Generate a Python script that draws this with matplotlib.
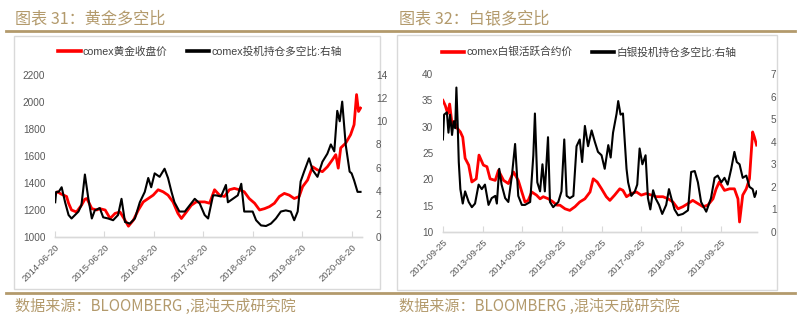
import matplotlib
matplotlib.use("Agg")
import matplotlib.pyplot as plt
from matplotlib.lines import Line2D
from matplotlib.patches import Rectangle
import datetime as dt

plt.rcParams['font.family'] = ['Liberation Sans', 'Noto Sans CJK SC', 'DejaVu Sans']

# ---------------- data: gold ----------------
gold_t = [2014.47, 2014.52, 2014.58, 2014.64, 2014.70, 2014.74, 2014.80, 2014.90, 2015.00,
          2015.07, 2015.11, 2015.21, 2015.31, 2015.37, 2015.48, 2015.58, 2015.68, 2015.78,
          2015.88, 2015.95, 2016.05, 2016.15, 2016.25, 2016.35, 2016.45, 2016.55, 2016.65,
          2016.75, 2016.85, 2016.95, 2017.02, 2017.12, 2017.22, 2017.32, 2017.39, 2017.49,
          2017.59, 2017.69, 2017.79, 2017.89, 2017.99, 2018.09, 2018.19, 2018.29, 2018.39,
          2018.50, 2018.60, 2018.70, 2018.80, 2018.90, 2019.00, 2019.10, 2019.20, 2019.30,
          2019.40, 2019.47, 2019.57, 2019.67, 2019.77, 2019.87, 2019.97, 2020.07, 2020.14,
          2020.19, 2020.24, 2020.34, 2020.44, 2020.51, 2020.56, 2020.60, 2020.64]
gold_price = [1320, 1335, 1320, 1310, 1300, 1250, 1200, 1185, 1235,
              1280, 1285, 1210, 1200, 1210, 1200, 1137, 1175, 1185,
              1125, 1080, 1125, 1200, 1260, 1285, 1310, 1350, 1335,
              1310, 1260, 1175, 1137, 1185, 1235, 1260, 1260, 1260,
              1250, 1350, 1310, 1300, 1350, 1360, 1350, 1335, 1285,
              1250, 1200, 1210, 1225, 1250, 1300, 1323, 1310, 1285,
              1300, 1373, 1422, 1520, 1497, 1484, 1520, 1571, 1610,
              1510, 1660, 1695, 1758, 1832, 2055, 1930, 1955]

gold_ratio_t = [2014.47, 2014.49, 2014.54, 2014.60, 2014.67, 2014.74, 2014.80, 2014.87, 2014.94,
                2015.00, 2015.07, 2015.14, 2015.21, 2015.27, 2015.37, 2015.44, 2015.54, 2015.64,
                2015.74, 2015.81, 2015.88, 2015.98, 2016.08, 2016.18, 2016.28, 2016.35, 2016.41,
                2016.48, 2016.58, 2016.68, 2016.75, 2016.82, 2016.88, 2016.98, 2017.09, 2017.19,
                2017.29, 2017.39, 2017.49, 2017.56, 2017.66, 2017.72, 2017.82, 2017.92, 2017.96,
                2018.06, 2018.16, 2018.23, 2018.29, 2018.39, 2018.46, 2018.53, 2018.63, 2018.73,
                2018.83, 2018.93, 2019.03, 2019.13, 2019.23, 2019.30, 2019.37, 2019.43, 2019.50,
                2019.60, 2019.67, 2019.77, 2019.87, 2019.97, 2020.04, 2020.11, 2020.17, 2020.22,
                2020.27, 2020.34, 2020.42, 2020.46, 2020.51, 2020.58, 2020.64]
gold_ratio = [3.0, 3.9, 3.9, 4.3, 3.0, 1.9, 1.6, 1.9, 2.2,
              2.75, 5.4, 3.3, 1.6, 2.3, 2.5, 1.7, 1.6, 1.45,
              1.9, 3.3, 1.3, 1.16, 1.6, 3.0, 3.9, 5.1, 4.3,
              5.5, 5.2, 5.9, 5.1, 3.9, 3.0, 2.2, 2.2, 2.75,
              3.3, 2.9, 1.9, 1.6, 3.6, 3.6, 3.5, 4.5, 3.0,
              3.3, 3.6, 4.6, 2.2, 2.2, 2.2, 1.45, 1.0, 0.95,
              1.16, 1.6, 2.2, 2.3, 2.2, 1.45, 2.2, 4.8, 5.65,
              6.8, 5.8, 5.2, 6.5, 7.2, 8.0, 7.4, 10.9, 10.0,
              11.7, 8.0, 5.65, 5.5, 4.9, 3.9, 3.9]

gold_ticks = ['2014-06-20', '2015-06-20', '2016-06-20', '2017-06-20',
              '2018-06-20', '2019-06-20', '2020-06-20']

# ---------------- data: silver ----------------
silver_t = [2012.73, 2012.79, 2012.85, 2012.90, 2012.96, 2013.02, 2013.08, 2013.17, 2013.23,
            2013.29, 2013.38, 2013.46, 2013.57, 2013.64, 2013.75, 2013.84, 2013.92, 2014.05,
            2014.13, 2014.26, 2014.38, 2014.51, 2014.63, 2014.72, 2014.80, 2014.88, 2014.97,
            2015.09, 2015.18, 2015.26, 2015.39, 2015.51, 2015.60, 2015.68, 2015.81, 2015.93,
            2016.06, 2016.18, 2016.31, 2016.44, 2016.52, 2016.62, 2016.73, 2016.85, 2016.94,
            2017.06, 2017.19, 2017.27, 2017.36, 2017.48, 2017.61, 2017.73, 2017.86, 2017.99,
            2018.11, 2018.28, 2018.41, 2018.53, 2018.66, 2018.78, 2018.91, 2019.03, 2019.16,
            2019.29, 2019.41, 2019.54, 2019.62, 2019.70, 2019.83, 2019.96, 2020.08, 2020.17,
            2020.21, 2020.29, 2020.38, 2020.46, 2020.54, 2020.58, 2020.64]
silver_price = [35.0, 34.0, 32.5, 34.3, 30.5, 31.0, 29.8, 29.0, 28.0,
                24.0, 22.7, 19.5, 20.1, 24.6, 22.7, 22.4, 20.1, 19.8,
                21.7, 19.8, 19.2, 21.4, 19.8, 17.6, 15.7, 16.0, 17.6,
                17.0, 16.3, 16.7, 16.3, 15.7, 15.1, 15.1, 14.4, 14.1,
                14.8, 15.7, 16.3, 17.6, 20.1, 19.5, 18.2, 16.7, 16.0,
                17.0, 18.2, 17.9, 16.7, 17.3, 17.6, 17.0, 17.3, 17.0,
                16.7, 16.7, 16.3, 15.7, 14.4, 14.8, 15.4, 16.0, 15.4,
                14.8, 15.1, 16.3, 18.2, 19.5, 17.9, 18.2, 18.2, 16.3,
                11.9, 17.0, 18.2, 20.1, 29.0, 28.1, 26.5]

silver_ratio_t = [2012.73, 2012.76, 2012.83, 2012.87, 2012.91, 2012.96, 2013.00, 2013.04, 2013.07,
                  2013.10, 2013.13, 2013.17, 2013.23, 2013.29, 2013.38, 2013.46, 2013.54, 2013.63,
                  2013.71, 2013.79, 2013.88, 2013.96, 2014.05, 2014.09, 2014.15, 2014.21, 2014.30,
                  2014.38, 2014.47, 2014.55, 2014.63, 2014.72, 2014.80, 2014.93, 2015.01, 2015.05,
                  2015.11, 2015.18, 2015.24, 2015.30, 2015.38, 2015.43, 2015.51, 2015.64, 2015.72,
                  2015.79, 2015.85, 2015.93, 2016.02, 2016.10, 2016.18, 2016.24, 2016.31, 2016.39,
                  2016.48, 2016.56, 2016.64, 2016.73, 2016.81, 2016.90, 2016.96, 2017.02, 2017.11,
                  2017.15, 2017.21, 2017.27, 2017.36, 2017.40, 2017.48, 2017.57, 2017.63, 2017.69,
                  2017.76, 2017.84, 2017.90, 2017.96, 2018.03, 2018.09, 2018.18, 2018.26, 2018.36,
                  2018.43, 2018.49, 2018.57, 2018.66, 2018.78, 2018.91, 2018.99, 2019.08, 2019.16,
                  2019.24, 2019.37, 2019.49, 2019.58, 2019.66, 2019.75, 2019.83, 2019.91, 2020.00,
                  2020.08, 2020.14, 2020.21, 2020.29, 2020.38, 2020.46, 2020.54, 2020.59, 2020.64]
silver_ratio = [4.1, 5.2, 5.3, 4.4, 5.2, 4.3, 4.9, 4.6, 6.4,
                4.9, 3.1, 1.9, 1.26, 1.8, 1.33, 1.1, 1.26, 2.1,
                1.9, 2.1, 1.2, 1.5, 1.6, 1.26, 2.8, 2.1, 1.5,
                1.33, 2.5, 3.9, 1.6, 1.2, 1.2, 1.33, 3.4, 5.25,
                2.2, 1.8, 3.0, 1.8, 4.2, 1.33, 1.1, 1.33, 1.8,
                4.1, 1.6, 1.5, 1.6, 3.8, 4.1, 3.1, 4.7, 3.8,
                4.5, 4.0, 3.55, 3.4, 2.8, 3.85, 3.3, 4.4, 5.25,
                5.8, 5.2, 5.25, 2.8, 2.2, 1.6, 1.8, 2.1, 3.7,
                3.0, 3.4, 1.5, 1.0, 1.85, 1.5, 1.2, 0.8, 1.2,
                1.9, 1.5, 1.0, 0.74, 0.8, 0.96, 2.66, 2.7, 2.2,
                1.33, 0.9, 1.5, 2.4, 2.5, 2.2, 2.4, 2.1, 2.8,
                3.55, 3.1, 3.0, 2.4, 2.5, 2.0, 1.9, 1.55, 1.8]

silver_ticks = ['2012-09-25', '2013-09-25', '2014-09-25', '2015-09-25',
                '2016-09-25', '2017-09-25', '2018-09-25', '2019-09-25']

# ---------------- styling ----------------
W, H = 803, 324
TAN = '#b39a6c'
GRID_GRAY = '#d9d9d9'
LABEL = '#595959'
CJK = ['Liberation Sans', 'Noto Sans CJK SC', 'DejaVu Sans']


def to_year(s):
    d = dt.date.fromisoformat(s)
    start = dt.date(d.year, 1, 1)
    days = (dt.date(d.year + 1, 1, 1) - start).days
    return d.year + (d - start).days / days


def rect(x0, y0, x1, y1):
    return [x0 / W, 1 - y1 / H, (x1 - x0) / W, (y1 - y0) / H]


fig = plt.figure(figsize=(W / 100, H / 100), dpi=100)
fig.patch.set_facecolor('white')

# header / footer rules and panel frames
for y in (31, 293):
    fig.add_artist(Line2D([6 / W, 795 / W], [1 - y / H] * 2, color=TAN, lw=2.0,
                          transform=fig.transFigure))
for (x0, y0, x1, y1) in [(14, 36, 380, 289), (397, 35, 777, 290)]:
    fig.add_artist(Rectangle((x0 / W, 1 - y1 / H), (x1 - x0) / W, (y1 - y0) / H,
                             fill=False, ec=GRID_GRAY, lw=1.0, transform=fig.transFigure))

fig.text(15 / W, 1 - 18.5 / H, '图表 31：黄金多空比', color=TAN, fontsize=11.6,
         va='center', ha='left', family=['Noto Sans CJK SC', 'DejaVu Sans'])
fig.text(399 / W, 1 - 18.5 / H, '图表 32：白银多空比', color=TAN, fontsize=11.6,
         va='center', ha='left', family=['Noto Sans CJK SC', 'DejaVu Sans'])
for x in (15, 399):
    fig.text(x / W, 1 - 306.5 / H, '数据来源：BLOOMBERG ,混沌天成研究院', color=TAN,
             fontsize=10.9, va='center', ha='left', family=['Noto Sans CJK SC', 'DejaVu Sans'])


def panel(box, t1, v1, t2, v2, ylim1, yticks1, ylim2, yticks2, ticks, xlim,
          name1, name2, legend_center):
    ax = fig.add_axes(rect(*box))
    ax2 = ax.twinx()
    l1, = ax.plot(t1, v1, color='#ff0000', lw=2.0, solid_joinstyle='round')
    l2, = ax2.plot(t2, v2, color='#000000', lw=1.5, solid_joinstyle='round')
    ax.set_zorder(1)
    ax2.set_zorder(2)
    ax2.patch.set_visible(False)

    ax.set_xlim(*xlim)
    ax.set_ylim(*ylim1)
    ax.set_yticks(yticks1)
    ax2.set_ylim(*ylim2)
    ax2.set_yticks(yticks2)
    ax.set_xticks([to_year(s) for s in ticks])
    ax.set_xticklabels(ticks, rotation=45, ha='right', rotation_mode='anchor')

    for a in (ax, ax2):
        for s in ('top', 'left', 'right'):
            a.spines[s].set_visible(False)
        a.spines['bottom'].set_color(GRID_GRAY)
        a.spines['bottom'].set_linewidth(1.0)
    ax.tick_params(axis='x', direction='in', length=4, color=GRID_GRAY,
                   labelsize=6.8, labelcolor=LABEL, pad=4)
    ax.tick_params(axis='y', length=0, labelsize=7.2, labelcolor=LABEL, pad=7)
    ax2.tick_params(axis='y', length=0, labelsize=7.2, labelcolor=LABEL, pad=10)
    ax.patch.set_visible(False)

    fig.legend([l1, l2], [name1, name2], loc='center',
               bbox_to_anchor=(legend_center[0] / W, 1 - legend_center[1] / H),
               ncol=2, frameon=False, handlelength=2.1,
               handletextpad=0.2, columnspacing=1.8, prop={'family': CJK, 'size': 7.7})
    for h in fig.legends[-1].legend_handles:
        h.set_linewidth(2.6)
    for txt in fig.legends[-1].get_texts():
        txt.set_color('#404040')
    return ax, ax2


panel((55, 75, 362, 237), gold_t, gold_price, gold_ratio_t, gold_ratio,
      (1000, 2200), list(range(1000, 2201, 200)), (0, 14), list(range(0, 15, 2)),
      gold_ticks, (to_year('2014-06-20'), 2020.67),
      'comex黄金收盘价', 'comex投机持仓多空比:右轴', (200, 52))

panel((443, 74, 757, 232), silver_t, silver_price, silver_ratio_t, silver_ratio,
      (10, 40), list(range(10, 41, 5)), (0, 7), list(range(0, 8)),
      silver_ticks, (to_year('2012-09-25'), 2020.65),
      'comex白银活跃合约价', '白银投机持仓多空比:右轴', (589, 52))

fig.savefig('out.png', dpi=100, facecolor='white')
